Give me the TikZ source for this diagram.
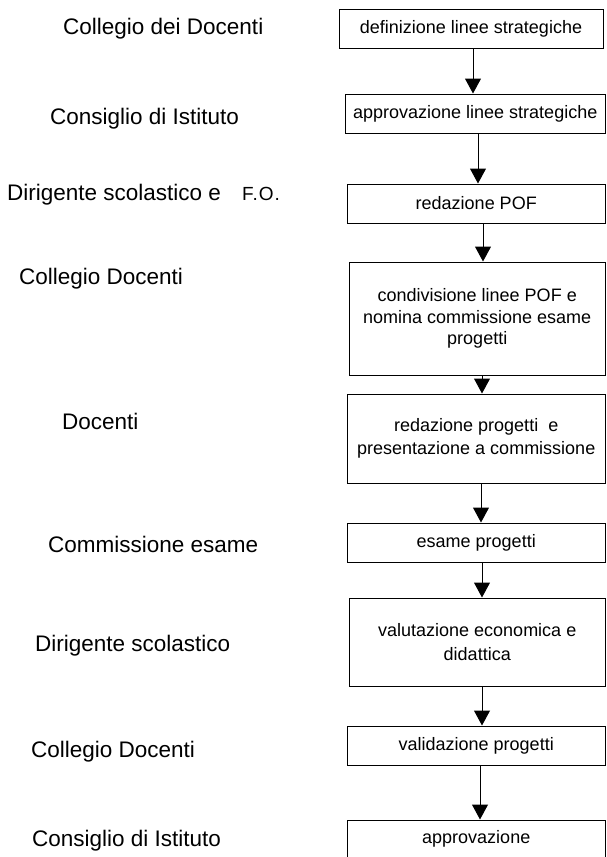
\documentclass[tikz,border=0pt]{standalone}
\usepackage{fontspec}
\setmainfont{Liberation Sans}
\newfontfamily\spacedfont[LetterSpace=5]{Liberation Sans}
\usetikzlibrary{arrows.meta}
\begin{document}
\begin{tikzpicture}[x=1pt,y=-1pt,
  stepbox/.style={draw=black, line width=1pt, rectangle, inner sep=0pt, align=center, font=\fontsize{18}{21}\selectfont},
  lbl/.style={anchor=base west, inner sep=0pt, font=\fontsize{22.5}{27}\selectfont},
  flow/.style={line width=1pt, -{Triangle[width=16pt,length=15pt]}}
]
\useasboundingbox (0,0) rectangle (607,857);
\clip (0,0) rectangle (607,857);

% boxes
\node[stepbox, minimum width=264pt, minimum height=39pt] (b1) at (471,28.5) {definizione linee strategiche};
\node[stepbox, minimum width=260.5pt, minimum height=39pt] (b2) at (475.25,113.5) {approvazione linee strategiche};
\node[stepbox, minimum width=258.5pt, minimum height=39pt] (b3) at (476.25,203.5) {redazione POF};
\node[stepbox, minimum width=256.5pt, minimum height=113pt, font=\fontsize{18}{21.5}\selectfont] (b4) at (477.25,318.5) {condivisione linee POF e\\nomina commissione esame\\progetti};
\node[stepbox, minimum width=258.5pt, minimum height=89pt, font=\fontsize{18}{23}\selectfont] (b5) at (476.25,438.5) {redazione progetti\ \ e\\presentazione a commissione};
\node[stepbox, minimum width=258.5pt, minimum height=39pt] (b6) at (476.25,542.5) {esame progetti};
\node[stepbox, minimum width=256.5pt, minimum height=88pt, font=\fontsize{18}{24}\selectfont] (b7) at (477.25,642) {valutazione economica e\\didattica};
\node[stepbox, minimum width=258.5pt, minimum height=39pt] (b8) at (476.25,745.5) {validazione progetti};
\node[stepbox, minimum width=258.5pt, minimum height=38.5pt] (b9) at (476.25,839.25) {approvazione};

% arrows
\draw[flow] (473,0 |- b1.south) -- (473,0 |- b2.north);
\draw[flow] (478,0 |- b2.south) -- (478,0 |- b3.north);
\draw[flow] (483,0 |- b3.south) -- (483,0 |- b4.north);
\draw[flow] (482,0 |- b4.south) -- (482,0 |- b5.north);
\draw[flow] (481,0 |- b5.south) -- (481,0 |- b6.north);
\draw[flow] (482,0 |- b6.south) -- (482,0 |- b7.north);
\draw[flow] (482,0 |- b7.south) -- (482,0 |- b8.north);
\draw[flow] (480,0 |- b8.south) -- (480,0 |- b9.north);

% labels
\node[lbl] (l1) at (63,34) {Collegio dei Docenti};
\node[lbl] (l2) at (50,124) {Consiglio di Istituto};
\node[lbl] (l3) at (7,200) {Dirigente scolastico e};
\node[lbl, font=\spacedfont\fontsize{19}{22}\selectfont] (l3b) at (242,200) {F.O.};
\node[lbl] (l4) at (19,284) {Collegio Docenti};
\node[lbl] (l5) at (62,429) {Docenti};
\node[lbl] (l6) at (48,552) {Commissione esame};
\node[lbl] (l7) at (35,651) {Dirigente scolastico};
\node[lbl] (l8) at (31,757) {Collegio Docenti};
\node[lbl] (l9) at (32,846) {Consiglio di Istituto};
\end{tikzpicture}
\end{document}
